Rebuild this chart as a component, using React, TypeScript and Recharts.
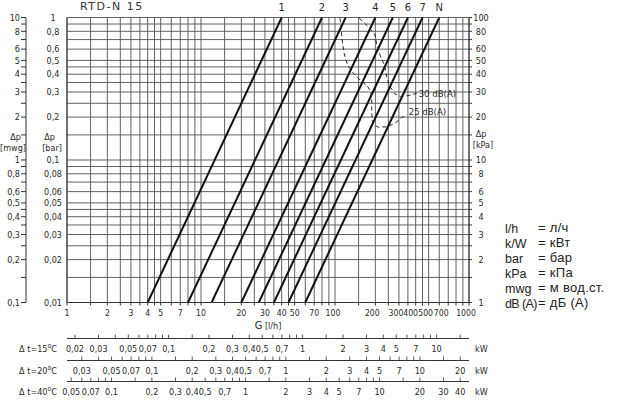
import { LineChart, Line, XAxis, YAxis, CartesianGrid, LabelList } from 'recharts';

// presetting lines 1..7, N: flow (l/h) at 0.01 bar and at 1 bar
const presetNames = ['1', '2', '3', '4', '5', '6', '7', 'N'];
const presetFlowLow = [4, 8, 12, 20, 27, 35, 45, 60];
const presetFlowHigh = [40, 80, 120, 200, 270, 350, 450, 600];
const presetDp = [0.01, 1];

// noise limits (dashed), flow l/h vs dp bar
const noise30Flow = [152, 177, 199, 205, 217, 236, 243, 257, 280, 309, 352, 407];
const noise30Dp = [0.987, 0.862, 0.754, 0.641, 0.545, 0.452, 0.384, 0.327, 0.291, 0.278, 0.283, 0.294];
const noise25Flow = [109, 111, 113, 117, 124, 136, 154, 174, 185, 188, 188, 191, 210, 243, 280, 315, 343];
const noise25Dp = [0.987, 0.862, 0.695, 0.561, 0.464, 0.41, 0.364, 0.331, 0.301, 0.264, 0.213, 0.179, 0.17, 0.171, 0.181, 0.199, 0.207];

const gridSteps = [1, 1.5, 2, 2.5, 3, 3.5, 4, 4.5, 5, 6, 7, 8, 9];
const flowLabels = [1, 2, 3, 4, 5, 7, 10, 20, 30, 40, 50, 70, 100, 200, 300, 400, 500, 700, 1000];
const barLabels = [1, 0.8, 0.6, 0.5, 0.4, 0.3, 0.2, 0.1, 0.08, 0.06, 0.05, 0.04, 0.03, 0.02, 0.01];
const mwgLabels = [10, 8, 6, 5, 4, 3, 2, 1, 0.8, 0.6, 0.5, 0.4, 0.3, 0.2, 0.1];
const kpaLabels = [100, 80, 60, 50, 40, 30, 20, 10, 8, 6, 5, 4, 3, 2, 1];

const kwSteps = [1, 1.5, 2, 3, 4, 5, 6, 7, 8, 9];
const deltaT = [15, 20, 40];
const kwLabels = [
  [0.02, 0.03, 0.05, 0.07, 0.1, 0.2, 0.3, 0.4, 0.5, 0.7, 1, 2, 3, 4, 5, 7, 10],
  [0.03, 0.05, 0.07, 0.1, 0.2, 0.3, 0.4, 0.5, 0.7, 1, 2, 3, 4, 5, 7, 10, 20],
  [0.05, 0.07, 0.1, 0.2, 0.3, 0.4, 0.5, 0.7, 1, 2, 3, 4, 5, 7, 10, 20, 30, 40],
];

const legendRows = [
  ['l/h', '= л/ч'],
  ['k/W', '= кВт'],
  ['bar', '= бар'],
  ['kPa', '= кПа'],
  ['mwg', '= м вод.ст.'],
  ['dB (A)', '= дБ (A)'],
];

const FLOW_MIN = 1;
const FLOW_MAX = 1000;

// crowded flow labels at the right end sit a little left of their grid line
const flowLabelShift: Record<number, number> = { 100: -2, 200: -3, 300: -3, 400: -5, 500: -3, 700: -7, 1000: -3 };

const FONT = "'DejaVu Sans Condensed', 'Liberation Sans Narrow', 'DejaVu Sans', sans-serif";
const txt = { fontFamily: FONT, fontSize: 9, fill: '#2a2a2a' };

function logTicks(lo: number, hi: number, steps: number[]) {
  const out: number[] = [];
  const e0 = Math.floor(Math.log10(lo) + 1e-9);
  const e1 = Math.ceil(Math.log10(hi) - 1e-9);
  for (let e = e0; e <= e1; e++) {
    for (const s of steps) {
      const v = +(s * Math.pow(10, e)).toPrecision(6);
      if (v >= lo * 0.9999 && v <= hi * 1.0001) out.push(v);
    }
  }
  return out;
}

const has = (list: number[], v: number) => list.some(l => Math.abs(l - v) / l < 1e-6);
const fmt = (v: number) => String(v).replace('.', ',');

// heat output (kW) per l/h of water for a given temperature drop
const kwPerFlow = (dt: number) => (dt * 1.163) / 1000;
const toKw = (flow: number, dt: number) => +(flow * kwPerFlow(dt)).toPrecision(6);

const flowTicks = logTicks(FLOW_MIN, FLOW_MAX, gridSteps);
const barTicks = logTicks(0.01, 1, gridSteps);
const mwgTicks = logTicks(0.1, 10, gridSteps);
const kpaTicks = logTicks(1, 100, gridSteps);
// kW ticks placed on the flow scale
const kwFlowTicks = deltaT.map(dt =>
  logTicks(kwPerFlow(dt) * FLOW_MIN, kwPerFlow(dt) * FLOW_MAX, kwSteps).map(kw => kw / kwPerFlow(dt)),
);

const presetData = presetNames.map((name, i) => [
  { g: presetFlowLow[i], p: presetDp[0] },
  { g: presetFlowHigh[i], p: presetDp[1], tag: name },
]);
const noise30 = noise30Flow.map((g, i) => ({ g, p: noise30Dp[i], tag: i === noise30Flow.length - 1 ? '30 dB(A)' : undefined }));
const noise25 = noise25Flow.map((g, i) => ({ g, p: noise25Dp[i], tag: i === noise25Flow.length - 1 ? '25 dB(A)' : undefined }));

const FlowTick = ({ x, y, payload }: any) =>
  has(flowLabels, payload.value) ? (
    <text x={x + (flowLabelShift[payload.value] ?? 0)} y={y + 10.5} textAnchor="middle" {...txt} fontSize={8.6}>
      {fmt(payload.value)}
    </text>
  ) : <g />;

const BarTick = ({ x, y, payload }: any) =>
  has(barLabels, payload.value) ? (
    <text x={x - 14} y={y + 3.2} textAnchor="middle" {...txt}>{fmt(payload.value)}</text>
  ) : <g />;

const MwgTick = ({ x, y, payload }: any) =>
  has(mwgLabels, payload.value) ? (
    <text x={x} y={y + 3.2} textAnchor="end" {...txt}>{fmt(payload.value)}</text>
  ) : <g />;

const KpaTick = ({ x, y, payload }: any) =>
  has(kpaLabels, payload.value) ? (
    <text x={x + 9} y={y + 3.2} textAnchor="middle" {...txt}>{fmt(payload.value)}</text>
  ) : <g />;

const makeKwTick = (dt: number, labels: number[]) => ({ x, y, payload }: any) => {
  const kw = toKw(payload.value, dt);
  return (
    <g>
      <line x1={x} x2={x} y1={y} y2={y - 4} stroke="#333" strokeWidth={0.8} />
      {has(labels, kw) && (
        <text x={x} y={y + 13.5} textAnchor="middle" {...txt}>{fmt(kw)}</text>
      )}
    </g>
  );
};

const makeKwLabel = (dt: number) => ({ viewBox }: any) => (
  <g>
    <text x={viewBox.x - 10} y={viewBox.y + 13.5} textAnchor="end" {...txt}>
      {`Δ t=${dt}`}
      <tspan dy={-4} fontSize={7}>o</tspan>
      <tspan dy={4}>C</tspan>
    </text>
    <text x={viewBox.x + viewBox.width + 6} y={viewBox.y + 13.5} {...txt}>kW</text>
  </g>
);

const FlowLabel = ({ viewBox }: any) => (
  <text x={viewBox.x + viewBox.width / 2} y={viewBox.y + 26.5} textAnchor="middle" {...txt}>
    <tspan fontSize={11}>G</tspan>
    <tspan> [l/h]</tspan>
  </text>
);

const BarLabel = ({ viewBox }: any) => (
  <g>
    <text x={viewBox.x + viewBox.width - 17.5} y={140} textAnchor="middle" {...txt}>Δp</text>
    <text x={viewBox.x + viewBox.width - 15} y={151} textAnchor="middle" {...txt}>[bar]</text>
  </g>
);

const MwgLabel = ({ viewBox }: any) => (
  <g>
    <text x={viewBox.x + viewBox.width - 5} y={140} textAnchor="end" {...txt}>Δp</text>
    <text x={viewBox.x + 13} y={151} textAnchor="middle" {...txt}>[mwg]</text>
  </g>
);

const KpaLabel = ({ viewBox }: any) => (
  <g>
    <text x={viewBox.x + 12} y={136.5} textAnchor="middle" {...txt}>Δp</text>
    <text x={viewBox.x + 14} y={147.5} textAnchor="middle" {...txt}>[kPa]</text>
  </g>
);

const TopTag = (props: any) => {
  const { value } = props;
  if (value == null || value === '') return null;
  const x = props.x ?? props.viewBox?.x;
  const y = props.y ?? props.viewBox?.y;
  return (
    <text x={x} y={y - 6.5} textAnchor="middle" {...txt} fontSize={11}>{value}</text>
  );
};

const NoiseTag = (dy: number) => (props: any) => {
  const { value } = props;
  if (value == null || value === '') return null;
  const x = props.x ?? props.viewBox?.x;
  const y = props.y ?? props.viewBox?.y;
  return (
    <text x={x + 2} y={y + dy} {...txt} fontSize={9.5}>{value}</text>
  );
};

export default function App() {
  return (
    <div style={{ position: 'absolute', left: 0, top: 0, width: 627, height: 407, background: '#fff' }}>
      <div
        style={{
          position: 'absolute', left: 80, top: 0, lineHeight: '14px',
          fontFamily: 'DejaVu Sans, sans-serif', fontSize: 11, letterSpacing: 1.5, color: '#333',
        }}
      >
        RTD-N 15
      </div>
      <LineChart width={627} height={407} margin={{ top: 17.5, right: 128, bottom: 5.5, left: 0 }}>
        <CartesianGrid xAxisId="g" yAxisId="bar" stroke="#505050" strokeWidth={0.9} />
        <XAxis
          xAxisId="g" dataKey="g" type="number" scale="log" domain={[FLOW_MIN, FLOW_MAX]} allowDataOverflow
          ticks={flowTicks} interval={0} height={36} tickSize={3} tickMargin={0}
          stroke="#333" tick={FlowTick} label={FlowLabel}
        />
        {deltaT.map((dt, i) => (
          <XAxis
            key={dt} xAxisId={`kw${dt}`} dataKey="g" type="number" scale="log"
            domain={[FLOW_MIN, FLOW_MAX]} allowDataOverflow
            ticks={kwFlowTicks[i]} interval={0}
            height={i === 0 ? 22 : i === 1 ? 21 : 20} tickSize={0} tickMargin={0} tickLine={false}
            stroke="#333" tick={makeKwTick(dt, kwLabels[i])} label={makeKwLabel(dt)}
          />
        ))}
        <YAxis
          yAxisId="bar" type="number" scale="log" domain={[0.01, 1]} allowDataOverflow
          ticks={barTicks} interval={0} width={41} tickSize={0} tickMargin={0} tickLine={false}
          stroke="#333" tick={BarTick} label={BarLabel}
        />
        <YAxis
          yAxisId="mwg" type="number" scale="log" domain={[0.1, 10]} allowDataOverflow
          ticks={mwgTicks} interval={0} width={26} tickSize={5} tickMargin={1}
          stroke="#333" tick={MwgTick} label={MwgLabel}
        />
        <YAxis
          yAxisId="kpa" orientation="right" type="number" scale="log" domain={[1, 100]} allowDataOverflow
          ticks={kpaTicks} interval={0} width={30} tickSize={3} tickMargin={0}
          stroke="#333" tick={KpaTick} label={KpaLabel}
        />
        {/* invisible carriers so the kW scales get a domain */}
        {deltaT.map(dt => (
          <Line
            key={`carrier${dt}`} xAxisId={`kw${dt}`} yAxisId="bar" data={presetData[0]} dataKey="p"
            stroke="none" dot={false} activeDot={false} isAnimationActive={false}
          />
        ))}
        {presetData.map((data, i) => (
          <Line
            key={presetNames[i]} xAxisId="g" yAxisId="bar" data={data} dataKey="p" type="linear"
            stroke="#111" strokeWidth={2} dot={false} isAnimationActive={false}
          >
            <LabelList dataKey="tag" content={TopTag} />
          </Line>
        ))}
        <Line
          xAxisId="g" yAxisId="bar" data={noise30} dataKey="p" type="linear"
          stroke="#222" strokeWidth={1} strokeDasharray="4 3" dot={false} isAnimationActive={false}
        >
          <LabelList dataKey="tag" content={NoiseTag(4)} />
        </Line>
        <Line
          xAxisId="g" yAxisId="bar" data={noise25} dataKey="p" type="linear"
          stroke="#222" strokeWidth={1} strokeDasharray="4 3" dot={false} isAnimationActive={false}
        >
          <LabelList dataKey="tag" content={NoiseTag(0.5)} />
        </Line>
      </LineChart>
      <div
        style={{
          position: 'absolute', left: 505, top: 220, fontFamily: 'Liberation Sans, Arial, sans-serif',
          color: '#222',
        }}
      >
        {legendRows.map(([a, b]) => (
          <div key={a} style={{ position: 'relative', height: 15, lineHeight: '15px', whiteSpace: 'nowrap' }}>
            <span style={{ fontSize: 12.5, letterSpacing: a.length > 4 ? -0.6 : 0 }}>{a}</span>
            <span style={{ position: 'absolute', left: 33, fontSize: 13, letterSpacing: 0.3 }}>{b}</span>
          </div>
        ))}
      </div>
    </div>
  );
}
